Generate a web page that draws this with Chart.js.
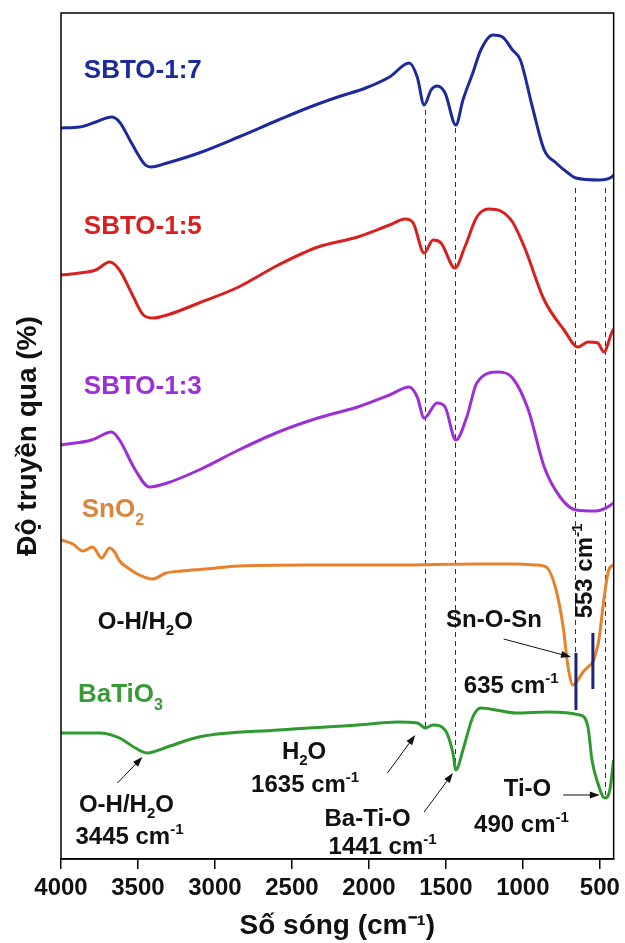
<!DOCTYPE html>
<html><head><meta charset="utf-8">
<script src="https://cdn.jsdelivr.net/npm/chart.js@4"></script>
<style>html,body{margin:0;padding:0;background:#fff}canvas{display:block}</style>
</head><body>
<canvas id="c" width="625" height="943"></canvas>
<script>
// ---- data (wavenumber in cm-1, transmittance in arbitrary offset units) ----
const xTicks = [4000, 3500, 3000, 2500, 2000, 1500, 1000, 500];

const wnBlue = [4000,3878,3774,3671,3620,3542,3452,3413,3310,3104,2846,2588,2382,2202,2021,1866,1738,1686,1641,1596,1557,1505,1435,1389,1325,1273,1196,1132,1067,1016,938,861,784,706,655,500,423,410];
const tBlue  = [731,732,737,742,737,716,694,692,696,706,722,739,752,762,771,782,796,782,754,769,773,766,734,759,786,809,824,822,809,799,752,709,696,686,681,679,682,684];

const wnRed = [4000,3878,3774,3684,3620,3542,3465,3401,3310,3104,2846,2588,2331,2073,1866,1763,1712,1641,1583,1531,1441,1377,1299,1222,1144,1067,990,861,732,642,577,513,474,423,410];
const tRed  = [584,586,589,597,589,566,544,541,544,556,572,594,612,622,634,640,636,606,619,616,591,612,642,650,648,637,612,559,529,512,517,516,507,526,530];

const wnPurple = [4000,3800,3671,3620,3517,3426,3310,3104,2846,2588,2331,2073,1866,1738,1686,1641,1557,1505,1435,1364,1299,1157,1067,964,861,758,655,526,474,410];
const tPurple  = [414,419,427,419,389,372,376,389,409,427,441,452,464,472,462,441,456,452,419,442,476,487,481,449,392,362,349,348,350,356];

const wnSnO2 = [4000,3923,3858,3794,3736,3684,3652,3620,3555,3491,3407,3317,3214,3059,2846,2400,1815,1300,1041,912,848,784,738,706,674,642,609,577,545,526,506,474,442,410];
const tSnO2  = [319,315,308,312,301,311,307,298,290,284,280,286,288,290,293,294,294,295,295,294,292,269,232,192,174,179,187,192,197,206,219,259,289,294];

const wnBTO = [4000,3749,3620,3517,3439,3310,3104,2588,2073,1815,1686,1634,1583,1505,1454,1435,1389,1325,1273,1041,835,629,577,551,513,468,435,410];
const tBTO  = [126,126,121,111,106,112,122,129,134,137,136,131,134,129,106,89,109,142,151,146,147,144,132,99,76,61,69,99];

const seriesNames = ['SBTO-1:7', 'SBTO-1:5', 'SBTO-1:3', 'SnO2', 'BaTiO3'];

// ---- styling / annotation layout (data coordinates) ----
const COLORS = {blue:'#1c2a9c', red:'#d8211f', purple:'#9c2fd8', orange:'#e8812c', green:'#2f9a2f'};
const FONT = '"Liberation Sans", Arial, Helvetica, sans-serif';

const toPts = (xs, ys) => xs.map((x, i) => ({x, y: ys[i]}));

const dashedLines = [
  {x:1635, y1:749, y2:132},
  {x:1441, y1:731, y2:89},
  {x:661,  y1:671, y2:206},
  {x:468,  y1:671, y2:64}
];
const navyBars = [
  {x:655, y1:206, y2:149},
  {x:545, y1:226, y2:170}
];
const arrows = [
  {x1:3633, y1:76,  x2:3471, y2:102},
  {x1:1879, y1:86,  x2:1699, y2:124},
  {x1:1641, y1:47,  x2:1454, y2:86},
  {x1:738,  y1:64,  x2:500,  y2:64},
  {x1:1125, y1:220, x2:687,  y2:202}
];
const labels = [
  {t:'SBTO-1:7', x:3852, y:790, c:COLORS.blue,   s:26, a:'left'},
  {t:'SBTO-1:5', x:3852, y:634, c:COLORS.red,    s:26, a:'left'},
  {t:'SBTO-1:3', x:3852, y:474, c:COLORS.purple, s:26, a:'left'},
  {t:'SnO_{2}',  x:3865, y:351, c:'#d9853c',     s:26, a:'left'},
  {t:'BaTiO_{3}',x:3890, y:166, c:'#3a9a36',     s:26, a:'left'},
  {t:'O-H/H_{2}O', x:3761, y:239, c:'#111', s:24, a:'left'},
  {t:'Sn-O-Sn',  x:1499, y:241, c:'#111', s:24, a:'left'},
  {t:'553 cm^{-1}', x:609, y:288, c:'#111', s:24, a:'center', rot:true},
  {t:'635 cm^{-1}', x:1383, y:175, c:'#111', s:24, a:'left'},
  {t:'H_{2}O', x:2421, y:109, c:'#111', s:24, a:'center'},
  {t:'1635 cm^{-1}', x:2414, y:76, c:'#111', s:24, a:'center'},
  {t:'Ba-Ti-O', x:2008, y:42, c:'#111', s:24, a:'center'},
  {t:'1441 cm^{-1}', x:1911, y:14, c:'#111', s:24, a:'center'},
  {t:'O-H/H_{2}O', x:3575, y:56, c:'#111', s:24, a:'center'},
  {t:'3445 cm^{-1}', x:3555, y:24, c:'#111', s:24, a:'center'},
  {t:'Ti-O', x:970, y:72, c:'#111', s:24, a:'center'},
  {t:'490 cm^{-1}', x:1009, y:36, c:'#111', s:24, a:'center'}
];

function parseRich(str) {
  const parts = [];
  const re = /(_\{[^}]*\}|\^\{[^}]*\})/;
  str.split(re).forEach(p => {
    if (!p) return;
    if (p.startsWith('_{')) parts.push({t:p.slice(2,-1), k:'sub'});
    else if (p.startsWith('^{')) parts.push({t:p.slice(2,-1), k:'sup'});
    else parts.push({t:p, k:'n'});
  });
  return parts;
}
function drawRich(ctx, lab, px, py) {
  const parts = parseRich(lab.t);
  const s = lab.s;
  const fnt = k => 'bold ' + (k === 'n' ? s : Math.round(s*0.62)) + 'px ' + FONT;
  let w = 0;
  parts.forEach(p => { ctx.font = fnt(p.k); p.w = ctx.measureText(p.t).width; w += p.w; });
  ctx.save();
  ctx.translate(px, py);
  if (lab.rot) ctx.rotate(-Math.PI/2);
  let x0 = lab.a === 'left' ? 0 : (lab.a === 'right' ? -w : -w/2);
  const base = 0.36*s;
  ctx.fillStyle = lab.c;
  ctx.textBaseline = 'alphabetic';
  ctx.textAlign = 'left';
  parts.forEach(p => {
    ctx.font = fnt(p.k);
    let dy = 0;
    if (p.k === 'sub') dy = 0.28*s;
    if (p.k === 'sup') dy = -0.42*s;
    ctx.fillText(p.t, x0, base + dy);
    x0 += p.w;
  });
  ctx.restore();
}

const annot = {
  id: 'annot',
  beforeDatasetsDraw(chart) {
    const {ctx, scales:{x, y}} = chart;
    ctx.save();
    ctx.strokeStyle = '#333';
    ctx.lineWidth = 1;
    ctx.setLineDash([5, 4]);
    dashedLines.forEach(d => {
      const px = Math.round(x.getPixelForValue(d.x)) + 0.5;
      ctx.beginPath();
      ctx.moveTo(px, y.getPixelForValue(d.y1));
      ctx.lineTo(px, y.getPixelForValue(d.y2));
      ctx.stroke();
    });
    ctx.restore();
  },
  afterDraw(chart) {
    const {ctx, chartArea:a, scales:{x, y}} = chart;
    ctx.save();
    // frame
    ctx.strokeStyle = '#000';
    ctx.lineWidth = 1.5;
    ctx.strokeRect(a.left, a.top, a.right - a.left, a.bottom - a.top);
    // navy bars
    ctx.strokeStyle = '#1c237a';
    ctx.lineWidth = 3;
    navyBars.forEach(b => {
      const px = x.getPixelForValue(b.x);
      ctx.beginPath();
      ctx.moveTo(px, y.getPixelForValue(b.y1));
      ctx.lineTo(px, y.getPixelForValue(b.y2));
      ctx.stroke();
    });
    // arrows
    ctx.strokeStyle = '#111';
    ctx.fillStyle = '#111';
    ctx.lineWidth = 1;
    arrows.forEach(ar => {
      const x1 = x.getPixelForValue(ar.x1), y1 = y.getPixelForValue(ar.y1);
      const x2 = x.getPixelForValue(ar.x2), y2 = y.getPixelForValue(ar.y2);
      const ang = Math.atan2(y2 - y1, x2 - x1);
      const L = 10, W = 3.5;
      ctx.beginPath();
      ctx.moveTo(x1, y1);
      ctx.lineTo(x2 - Math.cos(ang)*L*0.8, y2 - Math.sin(ang)*L*0.8);
      ctx.stroke();
      ctx.beginPath();
      ctx.moveTo(x2, y2);
      ctx.lineTo(x2 - Math.cos(ang)*L - Math.sin(ang)*W, y2 - Math.sin(ang)*L + Math.cos(ang)*W);
      ctx.lineTo(x2 - Math.cos(ang)*L + Math.sin(ang)*W, y2 - Math.sin(ang)*L - Math.cos(ang)*W);
      ctx.closePath();
      ctx.fill();
    });
    // labels
    labels.forEach(l => drawRich(ctx, l, x.getPixelForValue(l.x), y.getPixelForValue(l.y)));
    ctx.restore();
  }
};

const mk = (label, xs, ys, color) => ({
  label, data: toPts(xs, ys), borderColor: color, backgroundColor: color,
  borderWidth: 3, pointRadius: 0, cubicInterpolationMode: 'monotone', fill: false
});

new Chart(document.getElementById('c'), {
  type: 'line',
  data: {
    datasets: [
      mk(seriesNames[0], wnBlue, tBlue, COLORS.blue),
      mk(seriesNames[1], wnRed, tRed, COLORS.red),
      mk(seriesNames[2], wnPurple, tPurple, COLORS.purple),
      mk(seriesNames[3], wnSnO2, tSnO2, COLORS.orange),
      mk(seriesNames[4], wnBTO, tBTO, COLORS.green)
    ]
  },
  options: {
    responsive: false,
    devicePixelRatio: 1,
    animation: false,
    layout: {padding: {left: 0, right: 7, top: 13, bottom: 0}},
    plugins: {legend: {display: false}, tooltip: {enabled: false}},
    scales: {
      x: {
        type: 'linear', reverse: true, min: 410, max: 4000,
        afterBuildTicks: s => { s.ticks = xTicks.map(v => ({value: v})); },
        afterFit: s => { s.height = 84; },
        ticks: {font: {family: FONT, size: 24, weight: 'bold'}, color: '#111', padding: 5, maxRotation: 0, autoSkip: false,
                callback: v => String(v)},
        grid: {drawOnChartArea: false, drawTicks: true, tickLength: 10, color: '#000', lineWidth: 1.5},
        border: {display: true, color: '#000', width: 1.5},
        title: {display: true, text: 'Số sóng (cm⁻¹)', color: '#111', font: {family: FONT, size: 28, weight: 'bold'}, padding: {top: 0, bottom: 0}}
      },
      y: {
        type: 'linear', min: 0, max: 846,
        afterFit: s => { s.width = 61; },
        ticks: {display: false},
        grid: {display: false},
        border: {display: false},
        title: {display: true, text: 'Độ truyền qua (%)', color: '#111', font: {family: FONT, size: 28, weight: 'bold'}, padding: {top: 11, bottom: 0}}
      }
    }
  },
  plugins: [annot]
});
</script>
</body></html>
